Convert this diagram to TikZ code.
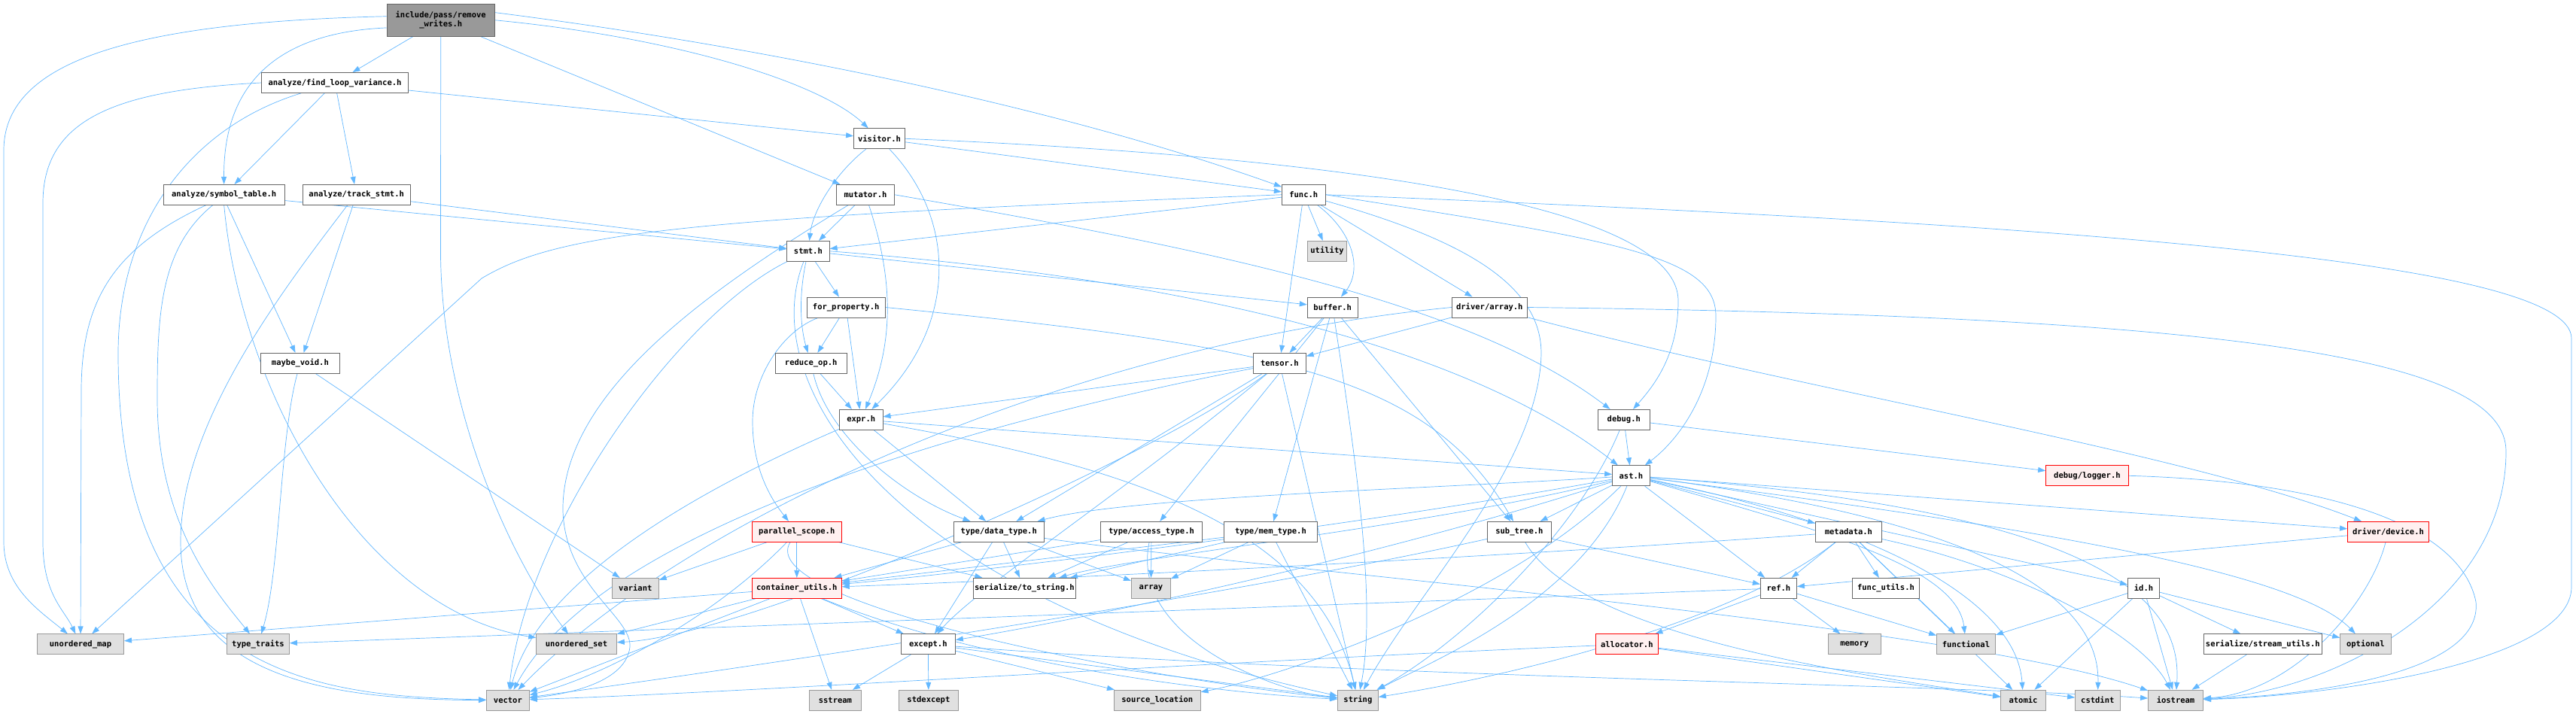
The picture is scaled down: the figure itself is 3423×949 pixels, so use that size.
\documentclass[tikz,border=0pt]{standalone}
\usepackage{fontspec}
\setmonofont{DejaVu Sans Mono}
\usetikzlibrary{arrows.meta}
\pgfdeclarelayer{background}
\pgfsetlayers{background,main}
\definecolor{edgeblue}{HTML}{63B8FF}
\definecolor{nodegray}{HTML}{666666}
\definecolor{extfill}{HTML}{E0E0E0}
\definecolor{extdraw}{HTML}{999999}
\definecolor{rootfill}{HTML}{999999}
\definecolor{redfill}{HTML}{FFF0F0}
\definecolor{reddraw}{HTML}{FF0000}
\tikzset{
  box/.style={draw=nodegray, fill=white, line width=0.8pt, minimum height=27pt, inner sep=0pt,
    font=\ttfamily\bfseries\fontsize{10.5}{12}\selectfont, text=black},
  ext/.style={box, draw=extdraw, fill=extfill},
  hot/.style={box, draw=reddraw, fill=redfill},
  rootbox/.style={box, fill=rootfill, minimum height=43pt, align=center},
  dep/.style={draw=edgeblue, line width=0.7pt, -{Triangle[length=10pt,width=7pt]}},
}
\begin{document}
\begin{tikzpicture}[x=1pt,y=1pt]
\useasboundingbox (0,0) rectangle (3423,-949);
% nodes
\node[rootbox, minimum width=143.6pt] (root) at (585.7,-26.8) {include/pass/remove\\\_writes.h};
\node[box, minimum width=194.4pt] (flv) at (445,-110) {analyze/find\_loop\_variance.h};
\node[box, minimum width=161.4pt] (symtab) at (297.7,-258.8) {analyze/symbol\_table.h};
\node[box, minimum width=143.1pt] (track) at (473.7,-258.8) {analyze/track\_stmt.h};
\node[box, minimum width=105.2pt] (maybevoid) at (398.9,-482.8) {maybe\_void.h};
\node[ext, minimum width=115.2pt] (umap) at (107,-856.3) {unordered\_map};
\node[ext, minimum width=83pt] (typetraits) at (343,-856.3) {type\_traits};
\node[box, minimum width=68pt] (visitor) at (1168.5,-184.3) {visitor.h};
\node[box, minimum width=77pt] (mutator) at (1150,-258.8) {mutator.h};
\node[box, minimum width=56.6pt] (stmt) at (1073.9,-333.8) {stmt.h};
\node[box, minimum width=103.8pt] (forprop) at (1124.2,-408.5) {for\_property.h};
\node[box, minimum width=95pt] (reduceop) at (1077.7,-482.8) {reduce\_op.h};
\node[box, minimum width=57.8pt] (expr) at (1144.2,-557.8) {expr.h};
\node[box, minimum width=58pt] (func) at (1732.3,-258.8) {func.h};
\node[ext, minimum width=52.4pt] (utility) at (1763.5,-333.8) {utility};
\node[box, minimum width=67pt] (buffer) at (1770.7,-408.5) {buffer.h};
\node[box, minimum width=99.9pt] (darray) at (1979.3,-408.5) {driver/array.h};
\node[box, minimum width=70pt] (tensor) at (1700.3,-482.8) {tensor.h};
\node[box, minimum width=68.8pt] (debug) at (2157.8,-557.8) {debug.h};
\node[box, minimum width=49.7pt] (ast) at (2167.4,-632.3) {ast.h};
\node[hot, minimum width=109.7pt] (logger) at (2773.4,-632.3) {debug/logger.h};
\node[box, minimum width=120.2pt] (datatype) at (1327.3,-706.8) {type/data\_type.h};
\node[box, minimum width=135pt] (accesstype) at (1530,-706.8) {type/access\_type.h};
\node[box, minimum width=123.7pt] (memtype) at (1688.4,-706.8) {type/mem\_type.h};
\node[box, minimum width=85pt] (subtree) at (2018.9,-706.8) {sub\_tree.h};
\node[box, minimum width=88pt] (metadata) at (2456.4,-706.8) {metadata.h};
\node[hot, minimum width=108pt] (device) at (3173.5,-706.8) {driver/device.h};
\node[hot, minimum width=119pt] (pscope) at (1058.8,-706.8) {parallel\_scope.h};
\node[ext, minimum width=62pt] (variant) at (844.3,-781.8) {variant};
\node[hot, minimum width=119pt] (cutils) at (1058.8,-781.8) {container\_utils.h};
\node[box, minimum width=136.3pt] (tostring) at (1361.4,-781.8) {serialize/to\_string.h};
\node[ext, minimum width=52pt] (array) at (1529.4,-781.8) {array};
\node[box, minimum width=48.2pt] (ref) at (2363.4,-781.8) {ref.h};
\node[box, minimum width=89pt] (funcutils) at (2506,-781.8) {func\_utils.h};
\node[box, minimum width=42pt] (id) at (2848.5,-781.8) {id.h};
\node[ext, minimum width=106.8pt] (uset) at (766,-856.3) {unordered\_set};
\node[box, minimum width=72.3pt] (except) at (1233.3,-856.3) {except.h};
\node[hot, minimum width=83pt] (allocator) at (2161.8,-856.3) {allocator.h};
\node[ext, minimum width=70pt] (memory) at (2464.2,-856.3) {memory};
\node[ext, minimum width=78pt] (functional) at (2612.5,-856.3) {functional};
\node[box, minimum width=157pt] (streamutils) at (3006.8,-856.3) {serialize/stream\_utils.h};
\node[ext, minimum width=67.5pt] (optional) at (3143.3,-856.3) {optional};
\node[ext, minimum width=57pt] (vector) at (674.9,-930.7) {vector};
\node[ext, minimum width=69pt] (sstream) at (1109.9,-930.7) {sstream};
\node[ext, minimum width=78.8pt] (stdexcept) at (1233.9,-930.7) {stdexcept};
\node[ext, minimum width=114.8pt] (srcloc) at (1537.8,-930.7) {source\_location};
\node[ext, minimum width=54pt] (string) at (1804.4,-930.7) {string};
\node[ext, minimum width=60pt] (atomic) at (2688.5,-930.7) {atomic};
\node[ext, minimum width=59.6pt] (cstdint) at (2787.3,-930.7) {cstdint};
\node[ext, minimum width=73pt] (iostream) at (2891,-930.7) {iostream};

\begin{pgfonlayer}{background}
\fill[white] (0,0) rectangle (3423,-949);
% root
\draw[dep] (root) -- (flv);
\draw[dep] (root.188) .. controls (330,-45) and (297,-150) .. (symtab);
\draw[dep] (root.176) .. controls (150,-30) and (5,-90) .. (5,-200) -- (5,-720) .. controls (5,-780) and (50,-810) .. (umap);
\draw[dep] (root.south) -- (585.5,-340) .. controls (588,-560) and (690,-760) .. (uset);
\draw[dep] (root.east) .. controls (900,-50) and (1090,-110) .. (visitor);
\draw[dep] (root) -- (mutator);
\draw[dep] (root.8) .. controls (1000,-60) and (1400,-140) .. (func);
% find_loop_variance
\draw[dep] (flv.west) .. controls (150,-120) and (57,-160) .. (57,-270) -- (57,-720) .. controls (57,-790) and (85,-810) .. (umap);
\draw[dep] (flv) -- (symtab);
\draw[dep] (flv) -- (track);
\draw[dep] (flv) -- (visitor);
\draw[dep] ([xshift=-45pt]flv.south) .. controls (250,-170) and (157,-300) .. (157,-470) .. controls (157,-900) and (420,-925) .. (vector);
% symbol_table
\draw[dep] ([xshift=-24pt]symtab.south) .. controls (150,-330) and (108,-400) .. (108,-520) -- (umap);
\draw[dep] ([xshift=-15pt]symtab.south) .. controls (212,-330) and (209,-420) .. (209,-530) .. controls (209,-700) and (290,-790) .. (typetraits);
\draw[dep] ([xshift=4pt]symtab.south) -- (maybevoid);
\draw[dep] (symtab.south) .. controls (320,-520) and (480,-810) .. (uset);
\draw[dep] (symtab) -- (stmt);
% track_stmt
\draw[dep] (track) -- (maybevoid);
\draw[dep] ([xshift=-12pt]track.south) .. controls (380,-380) and (240,-560) .. (240,-720) .. controls (240,-905) and (450,-930) .. (vector);
\draw[dep] (track) -- (stmt);
% maybe_void
\draw[dep] (maybevoid) .. controls (372,-580) and (372,-760) .. (typetraits);
\draw[dep] (maybevoid) -- (variant);
% visitor
\draw[dep] (visitor) .. controls (1110,-230) and (1080,-280) .. (stmt);
\draw[dep] (visitor) .. controls (1270,-290) and (1275,-430) .. (expr);
\draw[dep] (visitor) -- (func);
\draw[dep] (visitor.east) .. controls (1700,-205) and (2230,-260) .. (2230,-400) .. controls (2230,-470) and (2200,-510) .. (debug);
% mutator
\draw[dep] (mutator) -- (stmt);
\draw[dep] (mutator) .. controls (1190,-380) and (1185,-460) .. (expr);
\draw[dep] (mutator.east) .. controls (1600,-330) and (1950,-400) .. (debug);
\draw[dep] (mutator) .. controls (950,-380) and (745,-520) .. (748,-680) .. controls (752,-780) and (840,-820) .. (837,-860) .. controls (832,-905) and (760,-922) .. (vector);
% func
\draw[dep] (func.west) .. controls (900,-290) and (740,-310) .. (640,-370) -- (umap);
\draw[dep] (func) -- (stmt);
\draw[dep] (func) -- (utility);
\draw[dep] (func) .. controls (1800,-310) and (1810,-360) .. (buffer);
\draw[dep] (func) -- (darray);
\draw[dep] (func) -- (tensor);
\draw[dep] (func) .. controls (1950,-320) and (2048,-380) .. (2048,-470) .. controls (2045,-620) and (1880,-790) .. (string);
\draw[dep] (func.east) .. controls (2150,-320) and (2280,-340) .. (2280,-420) .. controls (2280,-520) and (2230,-585) .. (ast);
\draw[dep] (func.east) .. controls (2800,-300) and (3417,-350) .. (3417,-450) -- (3417,-780) .. controls (3417,-880) and (3100,-925) .. (iostream);
% stmt
\draw[dep] (stmt) -- (forprop);
\draw[dep] (stmt) .. controls (1060,-400) and (1065,-440) .. (reduceop);
\draw[dep] (stmt) -- (buffer);
\draw[dep] (stmt.east) .. controls (1700,-380) and (2000,-500) .. (ast);
\draw[dep] ([xshift=-6pt]stmt.south) .. controls (1000,-520) and (1200,-800) .. (string);
\draw[dep] (stmt) .. controls (900,-420) and (700,-700) .. (vector);
% for_property
\draw[dep] (forprop) .. controls (1040,-440) and (1000,-500) .. (1000,-560) .. controls (1000,-630) and (1030,-670) .. (pscope);
\draw[dep] (forprop) -- (reduceop);
\draw[dep] (forprop) -- (expr);
\draw[dep] (forprop.east) .. controls (1700,-460) and (1900,-500) .. (subtree);
% reduce_op
\draw[dep] (reduceop) -- (expr);
\draw[dep] (reduceop) .. controls (1100,-580) and (1200,-660) .. (datatype);
% expr
\draw[dep] (expr) -- (ast);
\draw[dep] (expr) -- (datatype);
\draw[dep] (expr) .. controls (1500,-620) and (1750,-700) .. (string);
\draw[dep] (expr) .. controls (1000,-620) and (720,-750) .. (vector);
% tensor
\draw[dep] (tensor) -- (expr);
\draw[dep] (tensor) -- (datatype);
\draw[dep] (tensor) -- (string);
\draw[dep] (tensor) .. controls (1300,-560) and (800,-700) .. (vector);
\draw[dep] (tensor) .. controls (1550,-600) and (1000,-845) .. (uset);
\draw[dep] (tensor) .. controls (1500,-650) and (1300,-780) .. (except);
% buffer
\draw[dep] (buffer) -- (tensor);
\draw[dep] (buffer) -- (accesstype);
\draw[dep] (buffer) -- (memtype);
\draw[dep] (buffer) -- (subtree);
\draw[dep] (buffer) .. controls (1800,-600) and (1830,-800) .. (string);
% driver/array
\draw[dep] (darray) -- (tensor);
\draw[dep] (darray) .. controls (2400,-520) and (2900,-600) .. (device);
\draw[dep] (darray.west) .. controls (1400,-460) and (900,-700) .. (vector);
\draw[dep] (darray.east) .. controls (3000,-420) and (3330,-480) .. (3330,-600) .. controls (3330,-800) and (3100,-920) .. (iostream);
% debug
\draw[dep] (debug) -- (ast);
\draw[dep] (debug) -- (logger);
\draw[dep] (debug) .. controls (2100,-700) and (1950,-850) .. (string);
% logger
\draw[dep] (logger.east) .. controls (3100,-640) and (3270,-700) .. (3290,-800) .. controls (3300,-900) and (3050,-925) .. (iostream);
% ast
\draw[dep] (ast) .. controls (1900,-650) and (1500,-660) .. (datatype);
\draw[dep] (ast) -- (subtree);
\draw[dep] (ast) -- (metadata);
\draw[dep] (ast) -- (ref);
\draw[dep] (ast) -- (id);
\draw[dep] (ast) -- (device);
\draw[dep] (ast) .. controls (2400,-700) and (2600,-750) .. (functional);
\draw[dep] (ast) .. controls (2500,-700) and (2680,-800) .. (atomic);
\draw[dep] (ast) .. controls (2700,-700) and (2790,-820) .. (cstdint);
\draw[dep] (ast) .. controls (2800,-680) and (2900,-800) .. (iostream);
\draw[dep] (ast) .. controls (2100,-800) and (1900,-880) .. (string);
\draw[dep] (ast) .. controls (1900,-700) and (1500,-740) .. (tostring);
\draw[dep] (ast) .. controls (1800,-700) and (1300,-760) .. (cutils);
\draw[dep] (ast) .. controls (1800,-750) and (1400,-830) .. (except);
\draw[dep] (ast) .. controls (2000,-800) and (1700,-900) .. (srcloc);
\draw[dep] (ast) .. controls (2700,-700) and (3050,-760) .. (optional);
% metadata
\draw[dep] (metadata) -- (ref);
\draw[dep] (metadata) -- (funcutils);
\draw[dep] (metadata) -- (functional);
\draw[dep] (metadata) -- (atomic);
\draw[dep] (metadata) .. controls (2700,-760) and (2850,-850) .. (iostream);
\draw[dep] (metadata) .. controls (2300,-830) and (2000,-900) .. (string);
\draw[dep] (metadata) .. controls (2000,-740) and (1400,-770) .. (cutils);
% ref
\draw[dep] (ref) -- (allocator);
\draw[dep] (ref) -- (memory);
\draw[dep] (ref) -- (functional);
\draw[dep] (ref) -- (typetraits);
% id
\draw[dep] (id) -- (functional);
\draw[dep] (id) -- (atomic);
\draw[dep] (id) -- (iostream);
\draw[dep] (id) -- (streamutils);
\draw[dep] (id) -- (optional);
\draw[dep] (streamutils) -- (iostream);
% allocator
\draw[dep] (allocator) .. controls (1600,-880) and (1000,-920) .. (vector);
\draw[dep] (allocator) -- (atomic);
\draw[dep] (allocator) -- (cstdint);
% device
\draw[dep] (device) -- (ref);
\draw[dep] (device) .. controls (3150,-800) and (3050,-920) .. (iostream);
% except
\draw[dep] (except) -- (sstream);
\draw[dep] (except) -- (stdexcept);
\draw[dep] (except) -- (srcloc);
\draw[dep] (except) -- (string);
\draw[dep] (except) .. controls (1800,-900) and (2600,-910) .. (iostream);
% container_utils
\draw[dep] (cutils) -- (umap);
\draw[dep] (cutils) -- (uset);
\draw[dep] (cutils) -- (vector);
\draw[dep] (cutils) -- (sstream);
\draw[dep] (cutils) .. controls (1300,-880) and (1600,-920) .. (string);
\draw[dep] (cutils) -- (except);
% parallel_scope
\draw[dep] (pscope) -- (variant);
\draw[dep] (pscope) -- (cutils);
\draw[dep] (pscope) -- (tostring);
\draw[dep] (pscope) .. controls (1000,-800) and (1500,-900) .. (string);
\draw[dep] (pscope) .. controls (950,-820) and (800,-900) .. (vector);
% data_type
\draw[dep] (datatype) -- (cutils);
\draw[dep] (datatype) -- (tostring);
\draw[dep] (datatype) -- (except);
\draw[dep] (datatype) -- (array);
\draw[dep] (datatype) .. controls (1700,-760) and (2600,-830) .. (iostream);
% access_type
\draw[dep] (accesstype) -- (tostring);
\draw[dep] (accesstype) -- (array);
\draw[dep] (accesstype) -- (cutils);
\draw[dep] (accesstype) .. controls (1500,-850) and (1700,-920) .. (string);
% mem_type
\draw[dep] (memtype) -- (tostring);
\draw[dep] (memtype) -- (array);
\draw[dep] (memtype) -- (string);
\draw[dep] (memtype) -- (cutils);
% sub_tree
\draw[dep] (subtree) -- (ref);
\draw[dep] (subtree) .. controls (2100,-850) and (2500,-900) .. (atomic);
\draw[dep] (subtree) .. controls (1600,-800) and (900,-900) .. (vector);
\end{pgfonlayer}
\end{tikzpicture}
\end{document}
